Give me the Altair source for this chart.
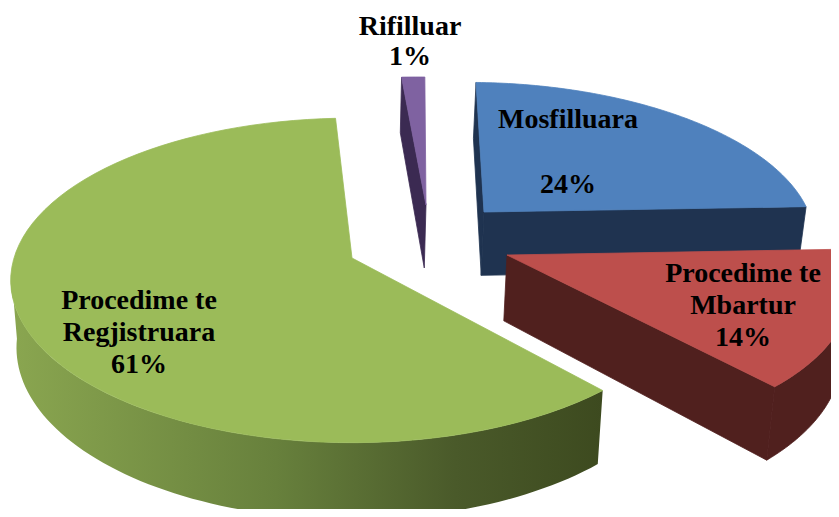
import math
import altair as alt

categories = ["Mosfilluara", "Procedime te Mbartur", "Procedime te Regjistruara", "Rifilluar"]
values = [24, 14, 60.7, 1.3]
top_colors = ["#4f81bd", "#bd4f4c", "#9bbb59", "#7f62a1"]
side_colors = ["#1f3350", "#50201e", "#3f4d20", "#3b2a52"]

# 3D pie view: perspective ground plane
CX, CY, S, A, P, H, VX, SHR = 352, 258, 338, 0.471, 0.138, 66, 330, 0.982
START = 1.5
# exploded slice apex on the picture
APEX = [(484, 212), (507, 255), (352, 258), (426, 205)]


def k(Y):
    return 1 / (1 + P * Y)


def to_screen(X, Y, low=False):
    x = CX + X * S * k(Y)
    y = CY - Y * A * S * k(Y)
    if low:
        x = VX + (x - VX) * SHR
        y = y + H * k(Y)
    return [round(x, 2), round(y, 2)]


def to_world(ax, ay):
    u = (CY - ay) / (A * S)
    Y = u / (1 - P * u)
    return (ax - CX) / (S * k(Y)), Y


def arc(o, a0, a1, low=False, n=80):
    return [to_screen(o[0] + math.sin(math.radians(a0 + (a1 - a0) * i / n)),
                      o[1] + math.cos(math.radians(a0 + (a1 - a0) * i / n)), low)
            for i in range(n + 1)]


def poly(pts, color):
    return {"type": "Feature", "properties": {"color": color},
            "geometry": {"type": "Polygon", "coordinates": [pts + [pts[0]]]}}


def face(o, a):
    return [to_screen(o[0], o[1]), arc(o, a, a, n=1)[0], arc(o, a, a, True, n=1)[0], to_screen(o[0], o[1], True)]


def rim(o, a0, a1):
    return arc(o, a0, a1) + arc(o, a1, a0, True)


def shapes(features, **mark):
    return alt.Chart(alt.Data(values=features)).mark_geoshape(strokeWidth=0.8, **mark).encode(
        color=alt.Color("properties.color:N", scale=None, legend=None),
        stroke=alt.Stroke("properties.color:N", scale=None, legend=None))


spans = []
a = START
for v in values:
    spans.append((a, a + v * 3.6))
    a += v * 3.6
origins = [to_world(*p) for p in APEX]


def top(i):
    o = origins[i]
    return poly([to_screen(o[0], o[1])] + arc(o, *spans[i]), top_colors[i])


blue = [poly(face(origins[0], spans[0][0]), side_colors[0]),
        poly(face(origins[0], spans[0][1]), side_colors[0]), top(0)]
red = [poly(face(origins[1], spans[1][1]), side_colors[1]),
       poly(rim(origins[1], *spans[1]), side_colors[1]), top(1)]
purple = [poly(face(origins[3], spans[3][0]), side_colors[3]), top(3)]

green_gradient = alt.Gradient(
    gradient="linear", x1=0, y1=0, x2=1, y2=0,
    stops=[alt.GradientStop(offset=0, color="#8aa650"),
           alt.GradientStop(offset=0.45, color="#67803c"),
           alt.GradientStop(offset=0.75, color="#4a5a2a"),
           alt.GradientStop(offset=1, color="#3d4a1f")])
green_side = alt.Chart(alt.Data(values=[poly(rim(origins[2], spans[2][0], 265), "x")])).mark_geoshape(
    fill=green_gradient, strokeWidth=0)


def label(text, x, y, line=32):
    return alt.Chart(alt.Data(values=[{"t": text}])).mark_text(
        font="Liberation Serif", fontWeight="bold", fontSize=28, color="#000000",
        align="center", baseline="middle", lineBreak="\n", lineHeight=line
    ).encode(text="t:N", x=alt.value(x - 8), y=alt.value(y - 8))


def pct(v):
    return f"{round(v)}%"


labels = [
    label(f"{categories[3]}\n{pct(values[3])}", 410, 27, 30),
    label(categories[0], 568, 120),
    label(pct(values[0]), 568, 185),
    label(f"Procedime te\nMbartur\n{pct(values[1])}", 743, 274),
    label(f"Procedime te\nRegjistruara\n{pct(values[2])}", 139, 301),
]

chart = alt.layer(
    shapes(blue), shapes(red), shapes(purple), green_side, shapes([top(2)]), *labels
).resolve_scale(color="independent", stroke="independent").properties(
    width=823, height=501, padding=0, autosize=alt.AutoSizeParams(type="none"),
    projection=alt.Projection(type="identity", scale=1, translate=[-8, -8]),
).configure_view(stroke=None)

chart.save("out.html", embed_options={"renderer": "svg", "actions": False})
